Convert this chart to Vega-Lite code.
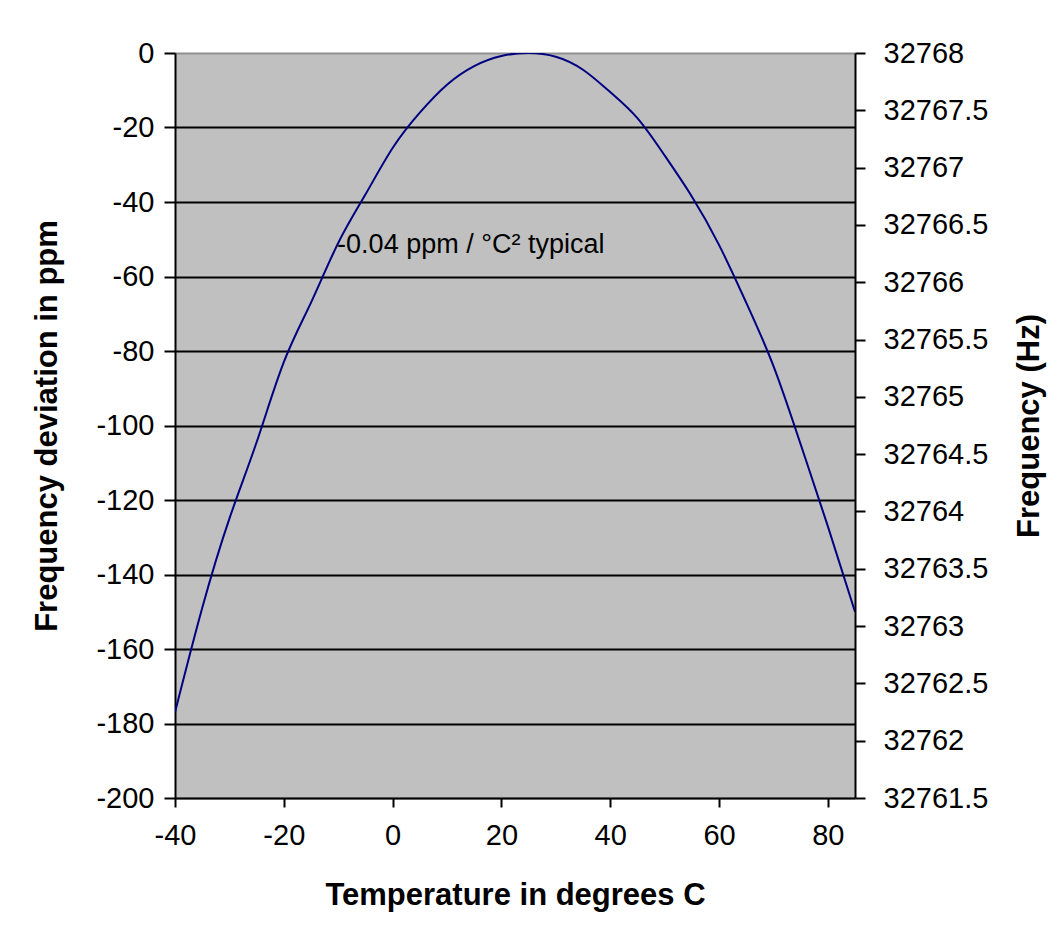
{
  "$schema": "https://vega.github.io/schema/vega-lite/v6.json",
  "width": 680,
  "height": 745,
  "autosize": {"type": "none"},
  "padding": {"left": 175, "top": 53, "right": 208, "bottom": 134},
  "background": "white",
  "config": {
    "view": {"fill": "#C0C0C0", "stroke": "#909090", "strokeWidth": 1},
    "font": "Liberation Sans",
    "axis": {
      "labelFont": "Liberation Sans",
      "labelFontSize": 29,
      "labelColor": "black",
      "labelFlush": false,
      "titleFont": "Liberation Sans",
      "titleFontSize": 31,
      "titleFontWeight": "bold",
      "titleColor": "black",
      "domainColor": "black",
      "domainWidth": 2,
      "tickColor": "black",
      "tickWidth": 2
    }
  },
  "datasets": {
    "curve": [
      {"temp": -40, "ppm": -177},
      {"temp": -35, "ppm": -149},
      {"temp": -30, "ppm": -125},
      {"temp": -25, "ppm": -104.5},
      {"temp": -20, "ppm": -83},
      {"temp": -15, "ppm": -67},
      {"temp": -10, "ppm": -51},
      {"temp": -5, "ppm": -38},
      {"temp": 0, "ppm": -25.5},
      {"temp": 5, "ppm": -16},
      {"temp": 10, "ppm": -8.5},
      {"temp": 15, "ppm": -3.5},
      {"temp": 20, "ppm": -0.8},
      {"temp": 25, "ppm": 0},
      {"temp": 30, "ppm": -1},
      {"temp": 35, "ppm": -4.5},
      {"temp": 40, "ppm": -10.5},
      {"temp": 45, "ppm": -17.5},
      {"temp": 50, "ppm": -27.5},
      {"temp": 55, "ppm": -38.5},
      {"temp": 60, "ppm": -51.5},
      {"temp": 65, "ppm": -67},
      {"temp": 70, "ppm": -84},
      {"temp": 75, "ppm": -105},
      {"temp": 80, "ppm": -127},
      {"temp": 85, "ppm": -150}
    ],
    "note": [
      {"temp": -10.2, "ppm": -51.5, "label": "-0.04 ppm / °C² typical"}
    ],
    "freqRange": [
      {"temp": 25, "freq": 32761.5},
      {"temp": 25, "freq": 32768}
    ]
  },
  "encoding": {
    "x": {
      "field": "temp",
      "type": "quantitative",
      "scale": {"domain": [-40, 85], "nice": false, "zero": false},
      "axis": {
        "values": [-40, -20, 0, 20, 40, 60, 80],
        "title": "Temperature in degrees C",
        "grid": false,
        "tickSize": 9,
        "labelPadding": 14,
        "titlePadding": 30,
        "labelExpr": "'' + datum.value"
      }
    }
  },
  "layer": [
    {
      "encoding": {
        "y": {
          "field": "ppm",
          "type": "quantitative",
          "scale": {"domain": [-200, 0], "nice": false, "zero": false},
          "axis": {
            "values": [-200, -180, -160, -140, -120, -100, -80, -60, -40, -20, 0],
            "title": "Frequency deviation in ppm",
            "grid": true,
            "gridColor": {"condition": {"test": "datum.value === 0 || datum.value === -200", "value": "#909090"}, "value": "black"},
            "gridWidth": 2,
            "tickSize": 11,
            "labelPadding": 10,
            "titlePadding": 32,
            "labelExpr": "'' + datum.value"
          }
        }
      },
      "layer": [
        {
          "data": {"name": "curve"},
          "mark": {"type": "line", "color": "#000080", "strokeWidth": 2, "clip": true, "interpolate": "natural"}
        },
        {
          "data": {"name": "note"},
          "mark": {"type": "text", "align": "left", "baseline": "middle", "fontSize": 27, "font": "Liberation Sans", "color": "black"},
          "encoding": {"text": {"field": "label", "type": "nominal"}}
        }
      ]
    },
    {
      "data": {"name": "freqRange"},
      "mark": {"type": "point", "opacity": 0},
      "encoding": {
        "y": {
          "field": "freq",
          "type": "quantitative",
          "scale": {"domain": [32761.5, 32768], "nice": false, "zero": false},
          "axis": {
            "orient": "right",
            "values": [32761.5, 32762, 32762.5, 32763, 32763.5, 32764, 32764.5, 32765, 32765.5, 32766, 32766.5, 32767, 32767.5, 32768],
            "title": "Frequency (Hz)",
            "titleAngle": 270,
            "grid": false,
            "tickSize": 10,
            "labelPadding": 18,
            "titlePadding": 58,
            "labelExpr": "'' + datum.value"
          }
        }
      }
    }
  ],
  "resolve": {"scale": {"y": "independent"}, "axis": {"y": "independent"}}
}
